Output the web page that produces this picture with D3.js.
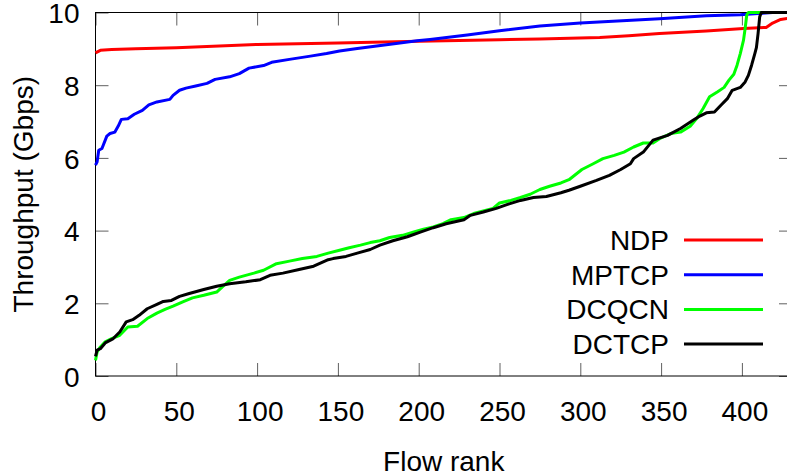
<!DOCTYPE html>
<html>
<head>
<meta charset="utf-8">
<script src="https://cdn.jsdelivr.net/npm/d3@7"></script>
<style>
  html, body { margin: 0; padding: 0; background: #fff; }
  svg { display: block; }
  text { font-family: "Liberation Sans", Arial, Helvetica, sans-serif; fill: #000; }
</style>
</head>
<body>
<script>
// Throughput per flow, flows sorted by rank: [rank, Gbps]
const ndp = [
  [0, 8.89], [3, 8.96], [10, 8.98], [25, 9.0], [50, 9.03], [100, 9.12], [150, 9.16],
  [200, 9.21], [250, 9.25], [275, 9.27], [312, 9.31], [330, 9.36], [349, 9.42],
  [378, 9.49], [401, 9.56], [415, 9.59], [419, 9.71], [424, 9.81], [429, 9.84]
];
const mptcp = [
  [0, 5.80], [1, 5.89], [2, 6.21], [4, 6.26], [7, 6.60], [9, 6.67], [12, 6.71],
  [14, 6.87], [16, 7.06], [20, 7.08], [24, 7.20], [29, 7.31], [33, 7.46], [38, 7.54],
  [46, 7.61], [48, 7.72], [52, 7.86], [56, 7.92], [62, 7.98], [69, 8.05], [74, 8.16],
  [83, 8.23], [89, 8.32], [95, 8.47], [104, 8.54], [109, 8.63], [120, 8.71],
  [133, 8.80], [143, 8.87], [151, 8.94], [162, 9.01], [174, 9.08], [186, 9.15],
  [199, 9.22], [207, 9.26], [230, 9.38], [250, 9.50], [275, 9.63], [300, 9.71],
  [349, 9.83], [378, 9.91], [399, 9.94], [410, 9.97], [419, 10], [429, 10]
];
const dcqcn = [
  [0, 0.43], [1, 0.66], [3, 0.80], [6, 0.94], [10, 1.03], [15, 1.12], [20, 1.35],
  [26, 1.37], [32, 1.58], [38, 1.73], [43, 1.83], [48, 1.92], [54, 2.04], [60, 2.15],
  [67, 2.22], [75, 2.31], [79, 2.47], [83, 2.63], [89, 2.72], [98, 2.83], [104, 2.91],
  [112, 3.09], [120, 3.16], [128, 3.23], [137, 3.29], [144, 3.38], [151, 3.46],
  [157, 3.53], [164, 3.60], [170, 3.67], [176, 3.72], [182, 3.81], [190, 3.87],
  [197, 3.96], [203, 4.04], [209, 4.10], [215, 4.19], [220, 4.30], [228, 4.36],
  [234, 4.47], [240, 4.54], [246, 4.61], [250, 4.76], [257, 4.83], [263, 4.91],
  [269, 5.00], [275, 5.13], [281, 5.22], [288, 5.31], [293, 5.40], [301, 5.68],
  [308, 5.84], [314, 5.98], [321, 6.07], [327, 6.16], [333, 6.30], [339, 6.41],
  [345, 6.41], [349, 6.53], [356, 6.67], [362, 6.71], [368, 6.87], [372, 7.08],
  [376, 7.36], [380, 7.68], [385, 7.82], [389, 7.94], [392, 8.14], [395, 8.30],
  [397, 8.55], [399, 8.87], [401, 9.24], [402, 9.56], [403, 9.93], [404, 10], [429, 10]
];
const dctcp = [
  [0, 0.54], [1, 0.71], [3, 0.75], [6, 0.91], [11, 1.03], [15, 1.21], [19, 1.49],
  [23, 1.55], [27, 1.67], [32, 1.85], [38, 1.97], [42, 2.05], [47, 2.08], [52, 2.19],
  [58, 2.27], [67, 2.38], [75, 2.47], [83, 2.54], [93, 2.59], [102, 2.65], [108, 2.77],
  [116, 2.83], [126, 2.93], [135, 3.02], [144, 3.20], [147, 3.23], [155, 3.29],
  [162, 3.38], [170, 3.48], [176, 3.60], [184, 3.72], [193, 3.83], [201, 3.96],
  [209, 4.08], [217, 4.19], [228, 4.30], [232, 4.42], [240, 4.51], [248, 4.61],
  [255, 4.72], [263, 4.83], [271, 4.91], [279, 4.94], [288, 5.04], [293, 5.11],
  [300, 5.22], [310, 5.38], [318, 5.52], [325, 5.68], [331, 5.84], [333, 5.98],
  [339, 6.16], [345, 6.49], [354, 6.62], [362, 6.81], [370, 7.04], [374, 7.15],
  [378, 7.24], [383, 7.26], [387, 7.45], [391, 7.63], [394, 7.86], [399, 7.94],
  [402, 8.09], [404, 8.27], [406, 8.55], [408, 8.87], [409, 9.04], [410, 9.42],
  [411, 9.88], [412, 10], [429, 10]
];

const seriesNames = ["NDP", "MPTCP", "DCQCN", "DCTCP"];
const seriesColors = ["#ff0000", "#0000ff", "#00ff00", "#000000"];
const seriesData = [ndp, mptcp, dcqcn, dctcp];

const xTicks = [0, 50, 100, 150, 200, 250, 300, 350, 400];
const yTicks = [0, 2, 4, 6, 8, 10];
const xTitle = "Flow rank";
const yTitle = "Throughput (Gbps)";

const W = 787, H = 475;
const plotLeft = 95.5, plotRight = 792, plotTop = 12.5, plotBottom = 376;
const fontSize = 28;
const tickLen = 13;
const tickColor = "#606060";

const svg = d3.select("body").append("svg")
  .attr("width", W).attr("height", H)
  .style("font-size", fontSize + "px");

const x = d3.scaleLinear().domain([0, 431]).range([plotLeft, plotRight]);
const y = d3.scaleLinear().domain([0, 10]).range([plotBottom, plotTop]);

// tick marks on all four sides, pointing inward
function styleTicks(g) {
  g.select(".domain").remove();
  g.selectAll(".tick line").attr("stroke", tickColor).attr("stroke-width", 1);
}

svg.append("g")
  .attr("transform", `translate(0,${plotBottom})`)
  .call(d3.axisBottom(x).tickValues(xTicks).tickSizeInner(-tickLen).tickSizeOuter(0).tickFormat(d3.format("d")))
  .call(styleTicks)
  .call(g => g.selectAll(".tick text")
    .attr("y", 0).attr("dy", 0)
    .attr("transform", "translate(2.5,44.5)")
    .attr("font-size", fontSize).attr("fill", "#000"));

svg.append("g")
  .attr("transform", `translate(0,${plotTop})`)
  .call(d3.axisTop(x).tickValues(xTicks).tickSizeInner(-tickLen).tickSizeOuter(0).tickFormat(""))
  .call(styleTicks);

svg.append("g")
  .attr("transform", `translate(${plotLeft},0)`)
  .call(d3.axisLeft(y).tickValues(yTicks).tickSizeInner(-tickLen).tickSizeOuter(0).tickFormat(d3.format("d")))
  .call(styleTicks)
  .call(g => g.selectAll(".tick text")
    .attr("x", 79.5 - plotLeft).attr("dy", "0.37em")
    .attr("text-anchor", "end")
    .attr("font-size", fontSize).attr("fill", "#000"));

svg.append("g")
  .attr("transform", `translate(${plotRight},0)`)
  .call(d3.axisRight(y).tickValues(yTicks).tickSizeInner(-tickLen).tickSizeOuter(0).tickFormat(""))
  .call(styleTicks);

// axis groups set their own font; use the page font instead
svg.selectAll("g").attr("font-family", null).attr("font-size", null);

// plot border
svg.append("rect")
  .attr("x", plotLeft).attr("y", plotTop)
  .attr("width", plotRight - plotLeft).attr("height", plotBottom - plotTop)
  .attr("fill", "none").attr("stroke", "#000").attr("stroke-width", 1);

// series lines
const line = d3.line().x(d => x(d[0])).y(d => y(d[1]));
svg.append("g").selectAll("path")
  .data(seriesData)
  .join("path")
  .attr("d", line)
  .attr("fill", "none")
  .attr("stroke", (d, i) => seriesColors[i])
  .attr("stroke-width", 3)
  .attr("stroke-linejoin", "round");

// legend
const legendTextX = 669, legendLineX0 = 684, legendLineX1 = 763;
const legendY0 = 240, legendStep = 34.7;
const legend = svg.append("g");
seriesNames.forEach((name, i) => {
  const ly = legendY0 + i * legendStep;
  legend.append("text")
    .attr("x", legendTextX).attr("y", ly).attr("dy", "0.36em")
    .attr("text-anchor", "end").text(name);
  legend.append("line")
    .attr("x1", legendLineX0).attr("x2", legendLineX1)
    .attr("y1", ly).attr("y2", ly)
    .attr("stroke", seriesColors[i]).attr("stroke-width", 3);
});

// axis titles
svg.append("text")
  .attr("x", (plotLeft + plotRight) / 2).attr("y", 470.5)
  .attr("text-anchor", "middle").text(xTitle);

svg.append("text")
  .attr("transform", `translate(33,${(plotTop + plotBottom) / 2}) rotate(-90)`)
  .attr("text-anchor", "middle").text(yTitle);
</script>
</body>
</html>
